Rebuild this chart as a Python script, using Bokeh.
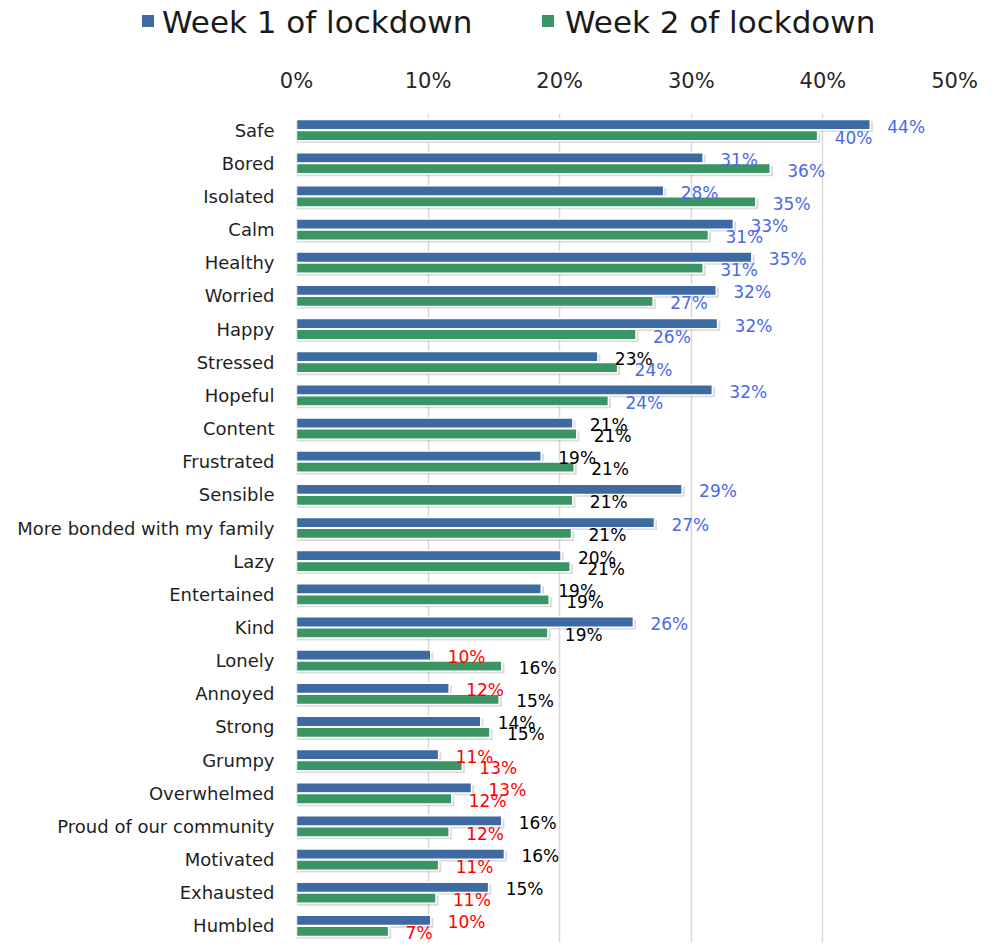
from bokeh.plotting import figure
from bokeh.layouts import column
from bokeh.models import (ColumnDataSource, Range1d, FixedTicker, PrintfTickFormatter,
                          FactorRange, Div)
from bokeh.transform import dodge
from bokeh.core.properties import value
from bokeh.embed import file_html
from bokeh.resources import INLINE

# ---- data (percent of respondents) ----
categories = ["Safe", "Bored", "Isolated", "Calm", "Healthy", "Worried", "Happy",
              "Stressed", "Hopeful", "Content", "Frustrated", "Sensible",
              "More bonded with my family", "Lazy", "Entertained", "Kind", "Lonely",
              "Annoyed", "Strong", "Grumpy", "Overwhelmed", "Proud of our community",
              "Motivated", "Exhausted", "Humbled"]
week1 = [43.6, 30.9, 27.9, 33.2, 34.6, 31.9, 32.0, 22.9, 31.6, 21.0, 18.6, 29.3,
         27.2, 20.1, 18.6, 25.6, 10.2, 11.6, 14.0, 10.8, 13.3, 15.6, 15.8, 14.6, 10.2]
week2 = [39.6, 36.0, 34.9, 31.3, 30.9, 27.1, 25.8, 24.4, 23.7, 21.3, 21.1, 21.0,
         20.9, 20.8, 19.2, 19.1, 15.6, 15.4, 14.7, 12.6, 11.8, 11.6, 10.8, 10.6, 7.0]
series_names = ["Week 1 of lockdown", "Week 2 of lockdown"]
x_ticks = [0, 10, 20, 30, 40, 50]

BLUE = "#3D6BA1"
GREEN = "#3A9464"
FONT = "DejaVu Sans"


def label_color(v):
    r = round(v)
    if r >= 24:
        return "#4A68EC"
    if r <= 13:
        return "#FF0000"
    return "#000000"


SHADOW_DX = 0.2  # small shift (in % units) to fake the drop shadow
src = ColumnDataSource(dict(
    cat=categories,
    w1=week1, w2=week2,
    w1s=[v + SHADOW_DX for v in week1], w2s=[v + SHADOW_DX for v in week2],
    w1_lbl=[f"{round(v)}%" for v in week1], w2_lbl=[f"{round(v)}%" for v in week2],
    w1_col=[label_color(v) for v in week1], w2_col=[label_color(v) for v in week2],
))

LEG_H = 45

p = figure(width=1005, height=947 - LEG_H,
           y_range=FactorRange(factors=categories[::-1]),
           x_range=Range1d(0, 50),
           x_axis_location="above",
           output_backend="svg", toolbar_location=None,
           min_border_left=296, min_border_right=51,
           min_border_top=113 - LEG_H, min_border_bottom=5)

OFF = 0.165
H = 0.31
SH_DY = 0.07

# shadows
p.hbar(y=dodge("cat", OFF - SH_DY, range=p.y_range), right="w1s", height=H,
       fill_color="#7f7f7f", fill_alpha=0.28, line_alpha=0, source=src)
p.hbar(y=dodge("cat", -OFF - SH_DY, range=p.y_range), right="w2s", height=H,
       fill_color="#7f7f7f", fill_alpha=0.28, line_alpha=0, source=src)

p.hbar(y=dodge("cat", OFF, range=p.y_range), right="w1", height=H,
       fill_color=BLUE, line_color="white", line_width=1.5, source=src)
p.hbar(y=dodge("cat", -OFF, range=p.y_range), right="w2", height=H,
       fill_color=GREEN, line_color="white", line_width=1.5, source=src)

p.text(x="w1", y=dodge("cat", OFF, range=p.y_range), text="w1_lbl", text_color="w1_col",
       x_offset=17, y_offset=2, text_font=value(FONT), text_font_size="17px",
       text_baseline="middle", text_align="left", source=src)
p.text(x="w2", y=dodge("cat", -OFF, range=p.y_range), text="w2_lbl", text_color="w2_col",
       x_offset=17, y_offset=2, text_font=value(FONT), text_font_size="17px",
       text_baseline="middle", text_align="left", source=src)

# axes
p.xaxis.ticker = FixedTicker(ticks=x_ticks)
p.xaxis.formatter = PrintfTickFormatter(format="%d%%")
p.xaxis.axis_line_color = None
p.xaxis.major_tick_line_color = None
p.xaxis.minor_tick_line_color = None
p.xaxis.major_label_standoff = 15
p.xaxis.major_label_text_font = FONT
p.xaxis.major_label_text_font_size = "21px"
p.xaxis.major_label_text_color = "#262626"

p.yaxis.axis_line_color = None
p.yaxis.major_tick_line_color = None
p.yaxis.minor_tick_line_color = None
p.yaxis.major_label_standoff = 16
p.yaxis.major_label_text_font = FONT
p.yaxis.major_label_text_font_size = "18px"
p.yaxis.major_label_text_color = "#1f1f1f"

p.xgrid.ticker = FixedTicker(ticks=x_ticks)
p.xgrid.grid_line_color = "#d9d9d9"
p.xgrid.grid_line_width = 1.5
p.ygrid.visible = False
p.outline_line_color = None

# ---- legend strip above the chart (HTML, real text) ----
legend_entries = [(series_names[0], BLUE, 142, 162), (series_names[1], GREEN, 542, 565)]
parts = []
for name, col, sq_x, tx_x in legend_entries:
    parts.append(
        f'<span style="position:absolute;left:{sq_x}px;top:15px;width:12px;height:12px;'
        f'background:{col};"></span>'
        f'<span style="position:absolute;left:{tx_x}px;top:4px;line-height:normal;'
        f'white-space:nowrap;">{name}</span>')
legend_html = ('<div style="position:relative;width:1005px;height:45px;'
               f'font-family:\'{FONT}\';font-size:31px;color:#1a1a1a;">'
               + "".join(parts) + '</div>')
legend_div = Div(text=legend_html, width=1005, height=LEG_H, margin=(0, 0, 0, 0))

layout = column(legend_div, p, spacing=0)
open("out.html", "w").write(file_html(layout, INLINE))
